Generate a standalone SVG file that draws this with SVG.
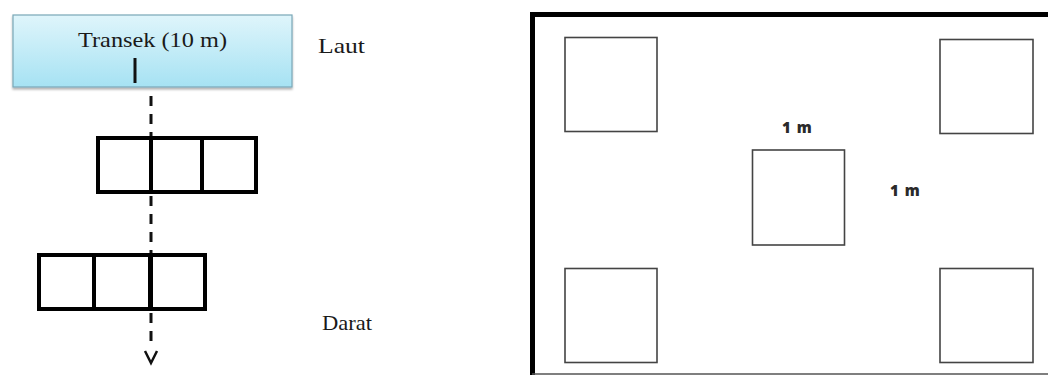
<svg xmlns="http://www.w3.org/2000/svg" width="1048" height="376" viewBox="0 0 1048 376">
<defs>
<linearGradient id="blue" x1="0" y1="0" x2="0" y2="1">
<stop offset="0" stop-color="#dff5fb"/>
<stop offset="1" stop-color="#a6e2f3"/>
</linearGradient>
<filter id="sh" x="-5%" y="-5%" width="110%" height="120%">
<feDropShadow dx="0" dy="2" stdDeviation="1.2" flood-color="#000" flood-opacity="0.3"/>
</filter>
</defs>
<style>
.serif{font-family:"Liberation Serif","Times New Roman",serif;fill:#1a1a1a}
.bold{font-family:"Open Sans","DejaVu Sans",sans-serif;font-weight:800;font-size:15px;fill:#2a2a2a;word-spacing:2px}
.plot{fill:none;stroke:#000;stroke-width:4}
.sq{fill:#fff;stroke:#444;stroke-width:1.6}
.dash{stroke:#111;stroke-width:3;stroke-dasharray:10 8;fill:none}
</style>
<rect width="1048" height="376" fill="#fff"/>

<g id="transek">
<rect x="13" y="15" width="279" height="72" fill="url(#blue)" stroke="#7aa7b7" stroke-width="1.2" filter="url(#sh)"/>
<text class="serif" x="78" y="47" font-size="21" textLength="149" lengthAdjust="spacingAndGlyphs">Transek (10 m)</text>
<line x1="135" y1="58" x2="135" y2="83" stroke="#111" stroke-width="3"/>
</g>

<g id="label-laut"><text class="serif" x="318" y="53" font-size="21" textLength="47" lengthAdjust="spacingAndGlyphs">Laut</text></g>
<g id="label-darat"><text class="serif" x="322" y="330" font-size="21" textLength="50" lengthAdjust="spacingAndGlyphs">Darat</text></g>

<g id="connectors">
<line class="dash" x1="151" y1="96" x2="151" y2="137"/>
<line class="dash" x1="151" y1="196" x2="151" y2="253"/>
<line class="dash" x1="151" y1="313" x2="151" y2="345"/>
<polyline points="145,351 151,363 157,351" fill="none" stroke="#111" stroke-width="2.5"/>
</g>

<g id="plot-upper">
<rect class="plot" x="98" y="138" width="158" height="54"/>
<line class="plot" x1="151" y1="138" x2="151" y2="192"/>
<line class="plot" x1="202" y1="138" x2="202" y2="192"/>
</g>

<g id="plot-lower">
<rect class="plot" x="39" y="255" width="166" height="54"/>
<line class="plot" x1="94" y1="255" x2="94" y2="309"/>
<line x1="150.5" y1="255" x2="150.5" y2="309" stroke="#000" stroke-width="5"/>
</g>

<g id="area">
<line x1="530" y1="14.5" x2="1048" y2="14.5" stroke="#000" stroke-width="5"/>
<line x1="532.5" y1="12" x2="532.5" y2="375" stroke="#000" stroke-width="5"/>
<line x1="532" y1="374" x2="1048" y2="374" stroke="#555" stroke-width="1.5"/>
</g>

<g id="sq-top-left"><rect class="sq" x="565" y="37.5" width="92" height="94"/></g>
<g id="sq-top-right"><rect class="sq" x="940" y="39.5" width="93" height="94"/></g>
<g id="sq-center"><rect class="sq" x="752.5" y="150" width="92" height="95"/></g>
<g id="sq-bottom-left"><rect class="sq" x="565" y="268.5" width="92" height="94"/></g>
<g id="sq-bottom-right"><rect class="sq" x="940" y="268.5" width="93" height="94"/></g>

<g id="label-1m-top"><text class="bold" x="782" y="133">1 m</text></g>
<g id="label-1m-right"><text class="bold" x="890" y="196">1 m</text></g>
</svg>
